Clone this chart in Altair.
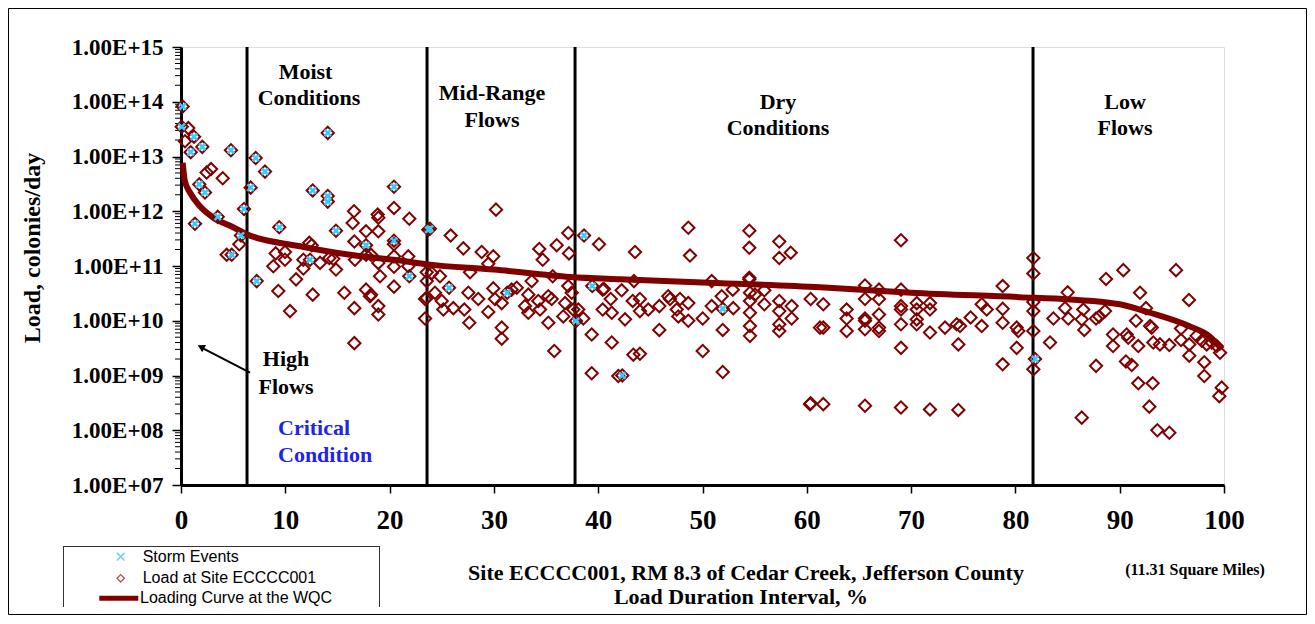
import altair as alt
import pandas as pd

SERIF = "Liberation Serif"
SANS = "Liberation Sans"

# ---------------- data ----------------
load_pct = [
    0.16, 0.07, 0.7, 1.25, 0.38, 2.04, 0.93, 4.79, 2.46, 2.88, 4.0, 1.75, 2.3, 1.34, 3.52, 6.04, 5.75, 5.59, 4.38, 4.86,
    6.68, 7.16, 8.05, 14.07, 12.63, 14.07, 14.07, 20.42, 16.59, 18.86, 18.92, 20.42, 21.89, 9.42, 14.86, 16.46, 17.74,
    18.92, 16.62, 17.74, 20.42, 20.42, 12.3, 12.53, 9.08, 9.97, 9.97, 8.85, 11.73, 12.37, 13.33, 14.22, 14.6, 11.73,
    14.86, 16.68, 17.74, 18.22, 18.92, 20.42, 20.42, 19.08, 21.89, 7.26, 11.03, 9.33, 12.63, 15.66, 17.74, 18.22, 20.42,
    21.79, 21.79, 23.71, 10.45, 16.62, 18.92, 18.92, 18.12, 16.62, 23.56, 23.56, 23.4, 23.4,
    30.2, 23.87, 25.86, 27.07, 28.83, 29.94, 29.46, 34.35, 34.68, 36.02, 37.13, 37.2, 23.56, 24.04, 24.83, 24.35, 25.7,
    25.0, 25.15, 26.11, 27.71, 27.55, 28.5, 27.64, 27.16, 29.46, 29.94, 30.1, 30.75, 31.28, 32.19, 31.7, 30.75, 30.75,
    33.62, 33.3, 32.98, 33.3, 34.26, 34.42, 35.22, 35.54, 35.22, 35.64, 35.79, 36.65, 36.82, 37.13, 37.46, 37.61, 37.87,
    38.09, 38.57, 39.38, 39.43, 40.43, 41.2, 41.3, 40.43, 41.3, 39.38, 41.93, 48.64, 54.49, 54.49, 48.8, 43.53, 40.08,
    38.64, 57.36, 57.36, 58.46, 40.56, 42.25, 43.43, 43.31, 44.0, 44.0, 44.8, 42.57, 43.37, 44.0, 42.31, 45.86, 45.86,
    46.72, 46.88, 47.84, 47.68, 48.64, 48.64, 47.53, 50.02, 50.02, 50.88, 50.88, 51.84, 51.94, 51.94, 51.94, 52.9,
    52.95, 54.49, 54.49, 54.55, 54.55, 54.55, 54.55, 54.55, 55.03, 55.93, 55.93, 57.36, 57.36, 57.36, 57.36, 58.55,
    58.55, 60.37, 60.37, 61.26,
    69.03, 61.58, 63.82, 63.82, 63.82, 61.58, 65.58, 65.58, 65.58, 65.58, 65.58, 66.92, 66.92, 66.92, 66.92, 66.92,
    69.03, 69.03, 69.03, 69.03, 69.03, 70.54, 70.54, 70.54, 70.54, 71.81, 71.81, 71.81, 73.25, 74.37, 74.69, 74.53,
    75.71, 76.77, 77.25, 76.77, 78.78, 78.78, 78.78, 78.78, 80.12, 80.28, 80.12, 81.72, 81.72, 81.72, 81.72, 81.72,
    81.88, 81.72, 60.31, 61.58, 65.58, 69.03, 71.81, 74.53,
    88.69, 90.35, 95.4, 85.01, 84.76, 91.95, 96.64, 83.64, 85.07, 86.51, 86.36, 86.61, 87.73, 88.04, 88.59, 92.52,
    91.56, 92.91, 93.07, 83.32, 89.36, 89.36, 90.67, 90.82, 91.78, 93.22, 93.86, 94.76, 95.88, 95.88, 96.67, 96.67,
    97.38, 97.86, 98.34, 98.82, 99.3, 99.62, 87.73, 90.6, 91.15, 98.11, 98.11, 91.78, 93.16, 92.84, 86.36, 99.78,
    99.55, 93.61, 94.76,
]
load_val = [
    8.2e13, 3.5e13, 3.3e13, 2.3e13, 1.9e13, 1.5e13, 1.2e13, 1.3e13, 5.1e12, 5.9e12, 4.0e12, 3.1e12, 2.2e12, 5.9e11,
    7.9e11, 1.1e12, 3.6e11, 2.5e11, 1.6e11, 1.6e11,
    2.7e12, 9.4e12, 5.3e12, 2.7e13, 2.4e12, 1.9e12, 1.5e12, 2.8e12, 1.0e12, 8.7e11, 7.6e11, 1.15e12, 7.3e11, 5.1e11,
    4.4e11, 6.1e11, 4.3e11, 4.3e11, 2.8e11, 2.4e11, 2.9e11, 2.5e11, 2.65e11, 2.4e11, 1.7e11, 1.8e11, 1.3e11, 9.9e10,
    1.3e11, 1.3e11, 1.14e11, 1.4e11, 1.35e11, 9.0e10, 8.6e10, 1.3e11, 1.6e11, 1.6e11, 1.14e11, 1.5e11, 9.7e10, 6.5e10,
    6.5e10, 5.3e10, 5.7e10, 3.5e10, 3.0e10, 3.25e10, 3.7e10, 3.0e10, 4.2e10, 1.5e11, 9.9e10, 4.6e11, 1.5e10, 1.7e10,
    1.85e10, 1.3e10, 2.8e10, 3.9e9, 5.3e10, 2.6e10, 2.5e10, 1.1e10,
    1.07e12, 4.8e11, 3.6e11, 2.1e11, 1.8e11, 1.5e11, 1.1e11, 2.05e11, 1.3e11, 2.4e11, 4.0e11, 1.7e11, 7.7e10, 7.4e10,
    6.5e10, 3.25e10, 4.0e10, 2.3e10, 1.6e10, 1.7e10, 7.7e10, 3.25e10, 2.5e10, 9.2e9, 1.6e10, 1.45e10, 3.9e10, 2.5e10,
    2.1e10, 3.25e10, 4.0e10, 3.7e10, 7.5e9, 4.7e9, 5.3e10, 3.0e10, 1.85e10, 1.4e10, 2.3e10, 1.6e10, 2.8e10, 2.5e10,
    9.2e9, 6.5e10, 2.8e9, 1.2e10, 2.1e10, 4.3e10, 3.25e10, 1.6e10, 9.9e9,
    1.6e10, 1.1e10, 5.6e9, 4.3e10, 3.7e10, 2.5e10, 1.4e10, 1.6e10, 4.0e9, 1.1e9, 9.8e8, 5.0e11, 4.4e11, 2.15e11,
    1.55e11, 1.8e11, 2.5e11, 3.6e11, 2.8e11, 1.4e11, 1.75e11, 3.8e10, 3.6e10, 5.3e10, 2.3e10, 2.5e10, 1.5e10, 1.6e10,
    1.06e10, 2.4e9, 2.5e9, 1.0e9, 1.85e10, 6.8e9, 2.8e10, 2.5e10, 2.5e10, 1.2e10, 1.0e10, 2.1e10, 1.6e10, 1.1e10,
    2.8e9, 5.3e10, 1.85e10, 2.8e10, 1.65e10, 6.8e9, 1.16e9, 3.7e10, 1.7e10, 6.1e10, 5.7e10, 3.25e10, 2.3e10, 1.4e10,
    8.0e9, 5.3e9, 3.0e10, 3.6e10, 2.0e10, 2.3e10, 1.5e10, 8.6e9, 6.5e9, 1.85e10, 1.1e10, 2.5e10, 3.1e8, 7.5e9,
    2.95e11, 2.0e10, 1.6e10, 1.1e10, 6.5e9, 7.5e9, 4.4e10, 2.5e10, 1.1e10, 1.0e10, 7.0e9, 3.7e10, 2.5e10, 1.3e10,
    7.5e9, 6.5e9, 3.7e10, 1.85e10, 1.6e10, 8.6e9, 3.2e9, 2.1e10, 1.6e10, 1.06e10, 8.6e9, 2.1e10, 1.6e10, 6.1e9,
    7.5e9, 8.6e9, 8.0e9, 3.7e9, 1.15e10, 2.0e10, 1.6e10, 8.0e9, 4.3e10, 1.65e10, 9.2e9, 1.6e9, 7.5e9, 6.5e9, 3.2e9,
    1.4e11, 7.3e10, 2.2e10, 1.5e10, 6.5e9, 2.0e9, 1.3e9, 3.0e8, 3.0e8, 2.8e8, 2.6e8, 2.4e8, 2.35e8,
    5.8e10, 8.4e10, 8.4e10, 3.3e10, 1.7e10, 3.25e10, 2.4e10, 1.1e10, 1.1e10, 1.6e10, 1.06e10, 6.8e9, 1.1e10, 1.2e10,
    1.5e10, 1.7e10, 1.0e10, 8.0e9, 7.5e9, 4.0e9, 5.6e9, 3.45e9, 5.6e9, 4.9e9, 3.45e9, 4.0e9, 3.7e9, 3.6e9, 7.2e9,
    4.45e9, 3.7e9, 2.3e9, 5.3e9, 4.3e9, 3.7e9, 4.0e9, 3.45e9, 2.6e9, 1.5e9, 1.8e9, 1.55e9, 1.75e9, 9.8e8, 7.2e8,
    7.2e8, 2.7e8, 1.7e8, 6.0e8, 4.2e8, 1.0e8, 9.0e7,
]
storm_pct = [0.16, 0.07, 1.25, 2.04, 0.93, 4.79, 1.75, 2.3, 1.34, 3.52, 6.04, 5.75, 4.86, 6.68, 7.16, 8.05, 14.07,
             12.63, 14.07, 14.07, 20.42, 9.42, 14.86, 17.74, 20.42, 12.37, 21.89, 7.26, 23.71, 23.87, 25.7, 31.28,
             37.87, 39.43, 38.64, 42.31, 51.94, 81.88]
storm_val = [8.2e13, 3.5e13, 2.3e13, 1.5e13, 1.2e13, 1.3e13, 3.1e12, 2.2e12, 5.9e11, 7.9e11, 1.1e12, 3.6e11, 1.6e11,
             2.7e12, 9.4e12, 5.3e12, 2.7e13, 2.4e12, 1.9e12, 1.5e12, 2.8e12, 5.1e11, 4.4e11, 2.4e11, 2.9e11, 1.3e11,
             6.5e10, 5.3e10, 4.6e11, 4.8e11, 4.0e10, 3.25e10, 9.9e9, 4.3e10, 3.6e11, 1.0e9, 1.65e10, 2.0e9]
curve_pct = [0.16, 0.38, 0.86, 1.82, 3.07, 5.0, 6.3, 11.4, 16.2, 21.0, 23.6, 30.0, 37.3, 42.1, 50.0, 61.3, 70.0,
             80.4, 85.2, 90.0, 92.9, 96.7, 98.6, 99.8]
curve_val = [7.7e12, 3.5e12, 2.2e12, 1.23e12, 7.7e11, 5.1e11, 3.8e11, 2.3e11, 1.6e11, 1.26e11, 1.07e11, 8.6e10,
             6.3e10, 5.7e10, 5.0e10, 4.1e10, 3.25e10, 2.7e10, 2.45e10, 2.0e10, 1.4e10, 7.9e9, 5.2e9, 3.0e9]
boundaries = [6.33, 23.59, 37.78, 81.69]
x_ticks = [0, 10, 20, 30, 40, 50, 60, 70, 80, 90, 100]
y_ticks = [1e7, 1e8, 1e9, 1e10, 1e11, 1e12, 1e13, 1e14, 1e15]
minor_ticks = [k * 10.0 ** e for e in range(7, 15) for k in range(2, 10)]

W, H = 1043, 438
PAD = {"left": 173, "top": 39, "right": 83, "bottom": 130}

xscale = alt.Scale(domain=[0, 100], nice=False, zero=False)
yscale = alt.Scale(type="log", domain=[1e7, 1e15], nice=False)
xaxis = alt.Axis(values=x_ticks, title=None, grid=False, labelFont=SERIF, labelFontWeight="bold",
                 labelFontSize=27, labelColor="black", tickSize=8, tickColor="black", tickWidth=1.5,
                 domainColor="black", domainWidth=3, labelPadding=14, labelFlush=False)
yaxis = alt.Axis(values=y_ticks, title=None, grid=False, labelFont=SERIF, labelFontWeight="bold",
                 labelFontSize=23, labelColor="black", tickSize=9, tickColor="black", tickWidth=1.5,
                 domainColor="black", domainWidth=3, labelPadding=9, labelFlush=False,
                 labelExpr="'1.00E+' + (round(log(datum.value)/LN10) < 10 ? '0' : '') + round(log(datum.value)/LN10)")


def X():
    return alt.X("x:Q", scale=xscale, axis=xaxis)


def Y():
    return alt.Y("y:Q", scale=yscale, axis=yaxis)


dummy = pd.DataFrame({"a": [0]})


def label(text, x, y, size=22, color="black", align="center", weight="bold", font=SERIF, angle=0):
    return alt.Chart(dummy).mark_text(text=text, align=align, baseline="middle", fontSize=size,
                                      fontWeight=weight, font=font, color=color, angle=angle).encode(
        x=alt.value(x), y=alt.value(y))


def hline(x1, x2, y, color="black", width=1.0):
    return alt.Chart(dummy).mark_rule(color=color, strokeWidth=width).encode(
        x=alt.value(x1), x2=alt.value(x2), y=alt.value(y))


def vline(x, y1, y2, color="black", width=1.0):
    return alt.Chart(dummy).mark_rule(color=color, strokeWidth=width).encode(
        x=alt.value(x), y=alt.value(y1), y2=alt.value(y2))


XSHAPE = "M-1,-1L1,1M-1,1L1,-1"

load_df = pd.DataFrame({"x": load_pct, "y": load_val})
storm_df = pd.DataFrame({"x": storm_pct, "y": storm_val})
curve_df = pd.DataFrame({"x": curve_pct, "y": curve_val})
bound_df = pd.DataFrame({"x": boundaries})
minor_df = pd.DataFrame({"y": minor_ticks})

frame = alt.Chart(dummy).mark_rect(fill="transparent", stroke="black", strokeWidth=1).encode(
    x=alt.value(-172.5), x2=alt.value(W + PAD["right"] - 0.5),
    y=alt.value(-PAD["top"] + 0.5), y2=alt.value(H + PAD["bottom"] - 0.5))

minor = alt.Chart(minor_df).mark_rule(color="black", strokeWidth=1).encode(
    y=Y(), x=alt.value(-6), x2=alt.value(0))

bounds = alt.Chart(bound_df).mark_rule(color="black", strokeWidth=3).encode(
    x=X(), y=alt.value(0), y2=alt.value(H))

curve = alt.Chart(curve_df).mark_line(color="#800000", strokeWidth=6, interpolate="monotone").encode(
    x=X(), y=Y())

points = alt.Chart(load_df).mark_point(shape="diamond", filled=False, color="#800000", size=150,
                                       strokeWidth=2, opacity=1).encode(x=X(), y=Y())

storms = alt.Chart(storm_df).mark_point(shape=XSHAPE, filled=False, color="#33CCFF", size=40,
                                        strokeWidth=2.5, opacity=1).encode(x=X(), y=Y())

texts = [
    label("Moist", 124.5, 24.7),
    label("Conditions", 128, 51.3),
    label("Mid-Range", 311, 46),
    label("Flows", 311, 73),
    label("Dry", 597, 55),
    label("Conditions", 597, 81),
    label("Low", 944, 55),
    label("Flows", 944, 81),
    label("High", 105, 312),
    label("Flows", 105, 340),
    label("Critical", 97, 381, color="#2222EE", align="left"),
    label("Condition", 97, 408, color="#2222EE", align="left"),
    label("Load, colonies/day", -148, 201, size=24, angle=270),
    label("Site ECCCC001,  RM 8.3 of Cedar Creek, Jefferson County", 565, 526, size=22),
    label("Load Duration Interval, %", 560, 550, size=22),
    label("(11.31 Square Miles)", 1014, 523, size=16),
]

arrow_line = alt.Chart(dummy).mark_rule(color="black", strokeWidth=2).encode(
    x=alt.value(69), y=alt.value(325.7), x2=alt.value(22), y2=alt.value(301.3))
arrow_head = alt.Chart(dummy).mark_point(shape="triangle", filled=True, color="black", size=70,
                                         angle=297.5, opacity=1).encode(x=alt.value(21), y=alt.value(300.5))

# legend
LX, LY = -181, -47
legend = [
    vline(63.5 + LX, 546 + LY, 607 + LY, color="#333333"),
    vline(379.5 + LX, 546 + LY, 607 + LY, color="#333333"),
    hline(63.5 + LX, 379.5 + LX, 546.5 + LY, color="#333333"),
    alt.Chart(dummy).mark_point(shape=XSHAPE, filled=False, color="#66CCFF", size=60, strokeWidth=1.5,
                                opacity=1).encode(x=alt.value(120.7 + LX), y=alt.value(556.7 + LY)),
    alt.Chart(dummy).mark_point(shape="diamond", filled=False, color="#C0504D", size=55, strokeWidth=1.3,
                                opacity=1).encode(x=alt.value(120.7 + LX), y=alt.value(578.3 + LY)),
    hline(99.3 + LX, 138.3 + LX, 598.3 + LY, color="#800000", width=5),
    label("Storm Events", 142.7 + LX, 556.7 + LY, size=16, align="left", weight="normal", font=SANS),
    label("Load at Site ECCCC001", 142.7 + LX, 578 + LY, size=16, align="left", weight="normal", font=SANS),
    label("Loading Curve at the WQC", 140 + LX, 598 + LY, size=16, align="left", weight="normal", font=SANS),
]

chart = alt.layer(frame, minor, bounds, curve, points, storms, arrow_line, arrow_head, *texts, *legend).properties(
    width=W, height=H, padding=PAD, autosize=alt.AutoSizeParams(type="none")
).configure_view(stroke="black", strokeWidth=3).configure(background="white")

chart.save("out.html", embed_options={"renderer": "svg", "actions": False})
